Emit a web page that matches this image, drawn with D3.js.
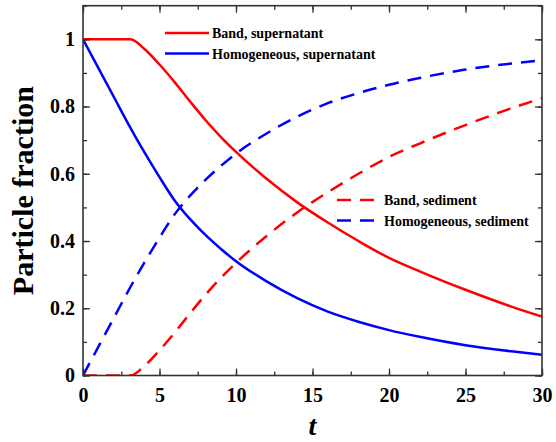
<!DOCTYPE html>
<meta charset="utf-8">
<script src="https://d3js.org/d3.v7.min.js"></script>
<style>
  body { margin: 0; background: #fff; }
  text { font-family: "Liberation Serif", "Times New Roman", serif; font-weight: bold; }
</style>
<body>
<svg id="chart" width="556" height="442"></svg>
<script>
// time points
var tBand = [0, 3.1, 4, 5, 6, 7, 8, 9, 10, 12, 14, 16, 18, 20, 22, 25, 28, 30];
var bandSuper = [1, 1, 0.972, 0.925, 0.872, 0.815, 0.76, 0.71, 0.665, 0.585, 0.515, 0.455, 0.40, 0.35, 0.31, 0.255, 0.205, 0.175];
var bandSed   = [0, 0, 0.028, 0.075, 0.128, 0.185, 0.24, 0.29, 0.335, 0.415, 0.485, 0.545, 0.60, 0.65, 0.69, 0.745, 0.795, 0.825];

var tHomo = [0, 1, 2, 3, 4, 5, 6, 7, 8, 9, 10, 12, 14, 16, 18, 20, 22, 25, 28, 30];
var homoSuper = [1, 0.915, 0.83, 0.745, 0.665, 0.59, 0.52, 0.465, 0.418, 0.377, 0.34, 0.28, 0.23, 0.19, 0.16, 0.135, 0.115, 0.09, 0.072, 0.062];
var homoSed   = [0, 0.085, 0.17, 0.255, 0.335, 0.41, 0.48, 0.535, 0.582, 0.623, 0.66, 0.72, 0.77, 0.81, 0.84, 0.865, 0.885, 0.91, 0.928, 0.938];

var xTicks = [0, 5, 10, 15, 20, 25, 30];
var yTicks = [0, 0.2, 0.4, 0.6, 0.8, 1];

var svg = d3.select("#chart");
var pLeft = 83, pRight = 542, pTop = 5.7, pBottom = 375.5;

var x = d3.scaleLinear().domain([0, 30]).range([pLeft, pRight]);
var y = d3.scaleLinear().domain([0, 1.1]).range([pBottom, pTop]);

var series = [
  { t: tBand, v: bandSuper, color: "#ff0000", dash: null },
  { t: tHomo, v: homoSuper, color: "#0000ff", dash: null },
  { t: tBand, v: bandSed,   color: "#ff0000", dash: "14,9" },
  { t: tHomo, v: homoSed,   color: "#0000ff", dash: "14,9" }
];

var line = d3.line()
  .x(function(d) { return x(d[0]); })
  .y(function(d) { return y(d[1]); })
  .curve(d3.curveMonotoneX);

svg.append("defs").append("clipPath").attr("id", "clip")
  .append("rect").attr("x", pLeft).attr("y", pTop)
  .attr("width", pRight - pLeft).attr("height", pBottom - pTop);

series.forEach(function(s) {
  svg.append("path")
    .datum(d3.zip(s.t, s.v))
    .attr("d", line)
    .attr("fill", "none")
    .attr("stroke", s.color)
    .attr("stroke-width", 2.5)
    .attr("stroke-dasharray", s.dash)
    .attr("clip-path", "url(#clip)");
});

// axes, ticks inward on all sides
function styleAxis(g) {
  g.select(".domain").remove();
  g.selectAll("line").attr("stroke", "#333").attr("stroke-width", 1.3);
}

var xMinor = d3.range(0, 30.1, 2.5);
var yMinor = d3.range(0, 1.11, 0.1);

svg.append("g").attr("transform", "translate(0," + pBottom + ")")
  .call(d3.axisBottom(x).tickValues(xMinor).tickSize(-4).tickFormat(""))
  .call(styleAxis);
svg.append("g").attr("transform", "translate(0," + pBottom + ")")
  .call(d3.axisBottom(x).tickValues(xTicks).tickSize(-7).tickPadding(12).tickFormat(d3.format("d")))
  .call(styleAxis)
  .selectAll("text").attr("font-size", 20).attr("fill", "#000")
  .attr("font-family", "Liberation Serif").attr("font-weight", "bold");

svg.append("g").attr("transform", "translate(0," + pTop + ")")
  .call(d3.axisTop(x).tickValues(xMinor).tickSize(-4).tickFormat(""))
  .call(styleAxis);
svg.append("g").attr("transform", "translate(0," + pTop + ")")
  .call(d3.axisTop(x).tickValues(xTicks).tickSize(-7).tickFormat(""))
  .call(styleAxis);

svg.append("g").attr("transform", "translate(" + pLeft + ",0)")
  .call(d3.axisLeft(y).tickValues(yMinor).tickSize(-4).tickFormat(""))
  .call(styleAxis);
svg.append("g").attr("transform", "translate(" + pLeft + ",0)")
  .call(d3.axisLeft(y).tickValues(yTicks).tickSize(-7).tickPadding(8)
    .tickFormat(function(d) { return d3.format("~g")(d); }))
  .call(styleAxis)
  .selectAll("text").attr("font-size", 20).attr("fill", "#000")
  .attr("font-family", "Liberation Serif").attr("font-weight", "bold");

svg.append("g").attr("transform", "translate(" + pRight + ",0)")
  .call(d3.axisRight(y).tickValues(yMinor).tickSize(-4).tickFormat(""))
  .call(styleAxis);
svg.append("g").attr("transform", "translate(" + pRight + ",0)")
  .call(d3.axisRight(y).tickValues(yTicks).tickSize(-7).tickFormat(""))
  .call(styleAxis);

svg.append("rect")
  .attr("x", pLeft).attr("y", pTop)
  .attr("width", pRight - pLeft).attr("height", pBottom - pTop)
  .attr("fill", "none").attr("stroke", "#333").attr("stroke-width", 1.6);

// axis titles
svg.append("text")
  .attr("x", (pLeft + pRight) / 2).attr("y", 435)
  .attr("text-anchor", "middle")
  .attr("font-size", 28).attr("font-style", "italic")
  .text("t");

svg.append("text")
  .attr("transform", "translate(33," + (pTop + pBottom) / 2 + ") rotate(-90)")
  .attr("text-anchor", "middle")
  .attr("font-size", 30)
  .text("Particle fraction");

// legends
var legendTop = [
  { label: "Band, supernatant", color: "#ff0000", dash: null },
  { label: "Homogeneous, supernatant", color: "#0000ff", dash: null }
];
var legendBottom = [
  { label: "Band, sediment", color: "#ff0000", dash: "14,9" },
  { label: "Homogeneous, sediment", color: "#0000ff", dash: "14,9" }
];

function drawLegend(items, x0, y0) {
  var g = svg.append("g").attr("transform", "translate(" + x0 + "," + y0 + ")");
  items.forEach(function(it, i) {
    var row = g.append("g").attr("transform", "translate(0," + i * 20.6 + ")");
    row.append("line").attr("x1", 0).attr("x2", 44).attr("y1", 0).attr("y2", 0)
      .attr("stroke", it.color).attr("stroke-width", 2.5)
      .attr("stroke-dasharray", it.dash);
    row.append("text").attr("x", 47).attr("y", 5)
      .attr("font-size", 14).text(it.label);
  });
}
drawLegend(legendTop, 165, 33);
drawLegend(legendBottom, 337, 200);
</script>
</body>
